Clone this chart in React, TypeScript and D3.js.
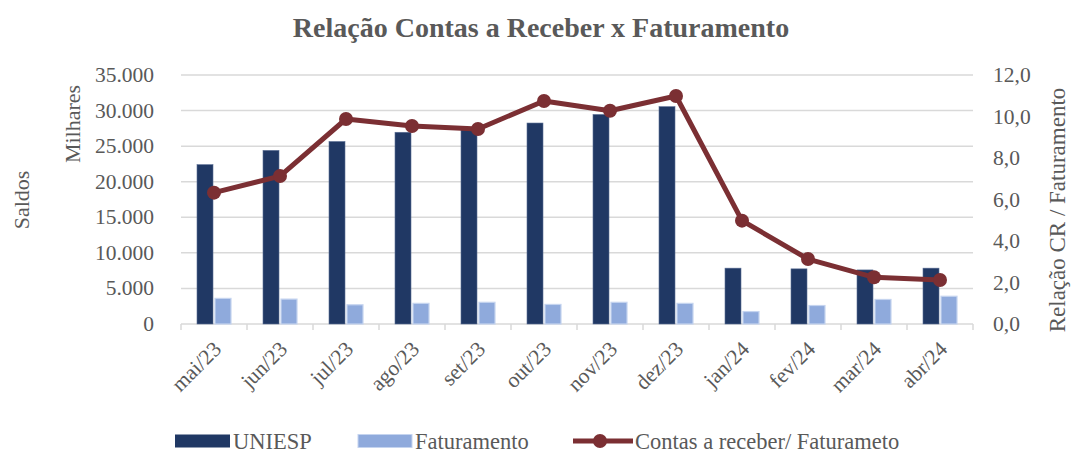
import React, { useEffect, useRef } from 'react';
import * as d3 from 'd3';

const months = ['mai/23', 'jun/23', 'jul/23', 'ago/23', 'set/23', 'out/23', 'nov/23', 'dez/23', 'jan/24', 'fev/24', 'mar/24', 'abr/24'];
const uniesp = [22400, 24400, 25650, 26950, 27300, 28250, 29450, 30550, 7850, 7750, 7600, 7850];
const faturamento = [3600, 3500, 2700, 2900, 3050, 2750, 3050, 2900, 1750, 2600, 3450, 3900];
const ratio = [6.33, 7.13, 9.88, 9.54, 9.4, 10.75, 10.28, 10.99, 4.98, 3.13, 2.25, 2.12];
const leftTicks = [0, 5000, 10000, 15000, 20000, 25000, 30000, 35000];
const rightTicks = [0, 2, 4, 6, 8, 10, 12];

const W = 1071;
const H = 454;
const FONT = 'Liberation Serif, DejaVu Serif, serif';
const TEXT = '#595959';
const DARK = '#203864';
const LIGHT = '#8faadc';
const LINE = '#7b2f33';
const FS = 21.5;

const App = () => {
  const svgRef = useRef(null);

  useEffect(() => {
    const svg = d3.select(svgRef.current);
    svg.selectAll('*').remove();
    svg.attr('font-family', FONT);

    const m = { left: 181, right: W - 973, top: 75, bottom: H - 324 };

    const x = d3.scaleBand().domain(months).range([m.left, W - m.right]);
    const yL = d3.scaleLinear().domain([0, 35000]).range([H - m.bottom, m.top]);
    const yR = d3.scaleLinear().domain([0, 12]).range([H - m.bottom, m.top]);
    const fmtL = (v) => d3.format(',')(v).replace(/,/g, '.');
    const fmtR = (v) => d3.format('.1f')(v).replace('.', ',');

    // título
    svg.append('text')
      .attr('x', 541)
      .attr('y', 37)
      .attr('text-anchor', 'middle')
      .attr('font-size', 28)
      .attr('font-weight', 'bold')
      .attr('fill', TEXT)
      .text('Relação Contas a Receber x Faturamento');

    // grade
    svg.append('g')
      .selectAll('line')
      .data(leftTicks.filter(d => d > 0))
      .join('line')
      .attr('x1', m.left)
      .attr('x2', W - m.right)
      .attr('y1', d => yL(d))
      .attr('y2', d => yL(d))
      .attr('stroke', '#d9d9d9')
      .attr('stroke-width', 1.5);

    // eixo x
    const xAxis = svg.append('g');
    xAxis.append('line')
      .attr('x1', m.left)
      .attr('x2', W - m.right)
      .attr('y1', yL(0))
      .attr('y2', yL(0))
      .attr('stroke', '#d9d9d9')
      .attr('stroke-width', 1.5);
    const bounds = months.map(d => x(d)).concat([W - m.right]);
    xAxis.selectAll('line.tk')
      .data(bounds)
      .join('line')
      .attr('class', 'tk')
      .attr('x1', d => d)
      .attr('x2', d => d)
      .attr('y1', yL(0))
      .attr('y2', yL(0) + 6)
      .attr('stroke', '#d9d9d9')
      .attr('stroke-width', 1.5);
    xAxis.selectAll('text')
      .data(months)
      .join('text')
      .attr('transform', d => `translate(${x(d) + x.bandwidth() / 2 + 5},${yL(0) + 23}) rotate(-45)`)
      .attr('text-anchor', 'end')
      .attr('dominant-baseline', 'middle')
      .attr('font-size', FS)
      .attr('fill', TEXT)
      .text(d => d);

    // eixo esquerdo
    svg.append('g')
      .selectAll('text')
      .data(leftTicks)
      .join('text')
      .attr('x', 154)
      .attr('y', d => yL(d))
      .attr('text-anchor', 'end')
      .attr('dominant-baseline', 'central')
      .attr('font-size', FS)
      .attr('fill', TEXT)
      .text(d => fmtL(d));

    // eixo direito
    svg.append('g')
      .selectAll('text')
      .data(rightTicks)
      .join('text')
      .attr('x', 993)
      .attr('y', d => yR(d))
      .attr('text-anchor', 'start')
      .attr('dominant-baseline', 'central')
      .attr('font-size', FS)
      .attr('fill', TEXT)
      .text(d => fmtR(d));

    // títulos dos eixos
    const axisTitle = (tx, ty, label, fs) => svg.append('text')
      .attr('transform', `translate(${tx},${ty}) rotate(-90)`)
      .attr('text-anchor', 'middle')
      .attr('dominant-baseline', 'central')
      .attr('font-size', fs)
      .attr('fill', TEXT)
      .text(label);
    axisTitle(21, 200, 'Saldos', 22);
    axisTitle(72, 124, 'Milhares', 22);
    axisTitle(1057, 210, 'Relação CR / Faturamento', 23);

    // barras
    const bw = 16;
    const gap = 2;
    svg.append('g')
      .selectAll('rect')
      .data(months)
      .join('rect')
      .attr('x', d => x(d) + x.bandwidth() / 2 - bw - gap / 2)
      .attr('y', (d, i) => yL(uniesp[i]))
      .attr('width', bw)
      .attr('height', (d, i) => yL(0) - yL(uniesp[i]))
      .attr('fill', DARK)
      .attr('stroke', '#5a6e94')
      .attr('stroke-width', 0.6);
    svg.append('g')
      .selectAll('rect')
      .data(months)
      .join('rect')
      .attr('x', d => x(d) + x.bandwidth() / 2 + gap / 2)
      .attr('y', (d, i) => yL(faturamento[i]))
      .attr('width', bw)
      .attr('height', (d, i) => yL(0) - yL(faturamento[i]))
      .attr('fill', LIGHT)
      .attr('stroke', '#c5d4ef')
      .attr('stroke-width', 1.2);

    // linha
    const line = d3.line()
      .x((d, i) => x(months[i]) + x.bandwidth() / 2)
      .y(d => yR(d));
    svg.append('path')
      .datum(ratio)
      .attr('d', line)
      .attr('fill', 'none')
      .attr('stroke', LINE)
      .attr('stroke-width', 5)
      .attr('stroke-linejoin', 'round');
    svg.append('g')
      .selectAll('circle')
      .data(ratio)
      .join('circle')
      .attr('cx', (d, i) => x(months[i]) + x.bandwidth() / 2)
      .attr('cy', d => yR(d))
      .attr('r', 7)
      .attr('fill', LINE);

    // legenda
    const lg = svg.append('g');
    const ly = 441;
    const LFS = 22.5;
    lg.append('rect').attr('x', 175).attr('y', ly - 6.5).attr('width', 55).attr('height', 13).attr('fill', DARK);
    lg.append('text').attr('x', 233).attr('y', ly).attr('dominant-baseline', 'central')
      .attr('font-size', LFS).attr('fill', TEXT).text('UNIESP');
    lg.append('rect').attr('x', 358).attr('y', ly - 6.5).attr('width', 54).attr('height', 13)
      .attr('fill', LIGHT).attr('stroke', '#c5d4ef').attr('stroke-width', 1);
    lg.append('text').attr('x', 415).attr('y', ly).attr('dominant-baseline', 'central')
      .attr('font-size', LFS).attr('fill', TEXT).text('Faturamento');
    lg.append('line').attr('x1', 573).attr('x2', 633).attr('y1', ly).attr('y2', ly)
      .attr('stroke', LINE).attr('stroke-width', 5);
    lg.append('circle').attr('cx', 600).attr('cy', ly).attr('r', 7).attr('fill', LINE);
    lg.append('text').attr('x', 635).attr('y', ly).attr('dominant-baseline', 'central')
      .attr('font-size', LFS).attr('fill', TEXT).text('Contas a receber/ Faturameto');
  }, []);

  return (
    <svg ref={svgRef} width={W} height={H}
      style={{ position: 'absolute', left: 0, top: 0, background: '#fff' }} />
  );
};

export default App;
